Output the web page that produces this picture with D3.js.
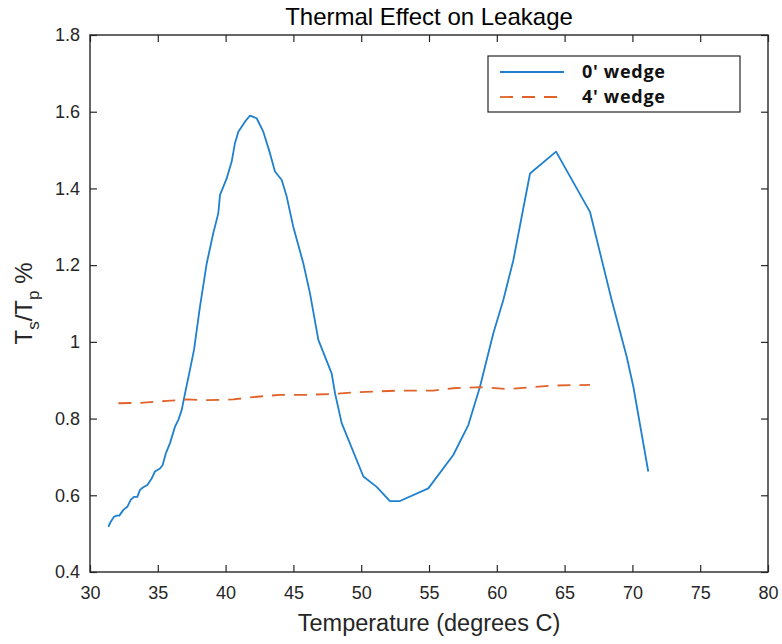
<!DOCTYPE html>
<html>
<head>
<meta charset="utf-8">
<script src="https://cdn.jsdelivr.net/npm/d3@7"></script>
<style>
  html, body { margin: 0; padding: 0; background: #fff; }
  svg { display: block; }
</style>
</head>
<body>
<svg id="chart" width="782" height="644"></svg>
<script>
// Temperature (degrees C) and ratio readings for the 0' wedge
const wedge0Temp = [31.35, 31.53, 31.77, 31.97, 32.16, 32.46, 32.75, 33.00, 33.24, 33.49,
  33.69, 33.93, 34.23, 34.55, 34.79, 35.16, 35.36, 35.60, 35.90, 36.27,
  36.51, 36.76, 37.01, 37.37, 37.67, 38.11, 38.61, 39.09, 39.46, 39.59,
  40.08, 40.45, 40.69, 40.94, 41.43, 41.80, 42.29, 42.78, 43.27, 43.64,
  44.14, 44.51, 44.99, 45.73, 46.22, 46.84, 47.82, 48.07, 48.56, 50.16,
  51.14, 52.12, 52.86, 54.95, 56.79, 57.90, 58.76, 59.74, 60.48, 61.22,
  62.45, 64.37, 66.87, 68.47, 69.58, 70.07, 71.17];
const wedge0Ratio = [0.518, 0.531, 0.544, 0.547, 0.547, 0.562, 0.570, 0.588, 0.596, 0.596,
  0.614, 0.621, 0.627, 0.644, 0.662, 0.670, 0.679, 0.710, 0.736, 0.779,
  0.796, 0.822, 0.866, 0.927, 0.979, 1.092, 1.205, 1.283, 1.335, 1.383,
  1.426, 1.470, 1.518, 1.548, 1.574, 1.590, 1.583, 1.548, 1.492, 1.444,
  1.422, 1.378, 1.300, 1.205, 1.127, 1.005, 0.918, 0.866, 0.788, 0.649,
  0.622, 0.585, 0.585, 0.618, 0.705, 0.783, 0.883, 1.022, 1.109, 1.213,
  1.439, 1.496, 1.339, 1.109, 0.961, 0.883, 0.662];

// Temperature and ratio readings for the 4' wedge
const wedge4Temp = [32.09, 33.69, 35.66, 37.13, 38.61, 40.57, 42.04, 44.01, 45.98, 47.94,
  49.42, 51.39, 52.86, 55.32, 56.79, 58.76, 60.73, 62.70, 64.17, 66.87];
const wedge4Ratio = [0.840, 0.841, 0.846, 0.850, 0.848, 0.850, 0.856, 0.862, 0.862, 0.864,
  0.868, 0.871, 0.873, 0.873, 0.879, 0.882, 0.877, 0.882, 0.886, 0.888];

const xTicks = [30, 35, 40, 45, 50, 55, 60, 65, 70, 75, 80];
const yTicks = [0.4, 0.6, 0.8, 1, 1.2, 1.4, 1.6, 1.8];
const seriesNames = ["0' wedge", "4' wedge"];

const plot = { left: 90, right: 768, top: 35, bottom: 572 };
const axisColor = "#262626";
const blue = "#1f80cf";
const orange = "#e0622a";
const sans = "'Liberation Sans', Arial, Helvetica, sans-serif";

const svg = d3.select("#chart");

const x = d3.scaleLinear().domain([30, 80]).range([plot.left, plot.right]);
const y = d3.scaleLinear().domain([0.4, 1.8]).range([plot.bottom, plot.top]);

const tickLen = 7;

// Axes (ticks point inward, box on all four sides)
const gx = svg.append("g").attr("transform", `translate(0,${plot.bottom})`)
  .call(d3.axisBottom(x).tickValues(xTicks).tickSizeInner(-tickLen).tickSizeOuter(0)
    .tickPadding(14).tickFormat(d3.format("d")));
const gxTop = svg.append("g").attr("transform", `translate(0,${plot.top})`)
  .call(d3.axisTop(x).tickValues(xTicks).tickSizeInner(-tickLen).tickSizeOuter(0).tickFormat(""));
const gy = svg.append("g").attr("transform", `translate(${plot.left},0)`)
  .call(d3.axisLeft(y).tickValues(yTicks).tickSizeInner(-tickLen).tickSizeOuter(0)
    .tickPadding(10).tickFormat(d3.format("~g")));
const gyRight = svg.append("g").attr("transform", `translate(${plot.right},0)`)
  .call(d3.axisRight(y).tickValues(yTicks).tickSizeInner(-tickLen).tickSizeOuter(0).tickFormat(""));

[gx, gxTop, gy, gyRight].forEach(g => {
  g.select(".domain").remove();
  g.selectAll(".tick line").attr("stroke", axisColor).attr("stroke-width", 1.2);
  g.selectAll(".tick text").attr("fill", axisColor)
    .style("font-family", sans).style("font-size", "18px");
});

// Frame
svg.append("rect")
  .attr("x", plot.left).attr("y", plot.top)
  .attr("width", plot.right - plot.left).attr("height", plot.bottom - plot.top)
  .attr("fill", "none").attr("stroke", axisColor).attr("stroke-width", 1.4);

// Series lines
const line = d3.line().x(d => x(d[0])).y(d => y(d[1]));
const s0 = wedge0Temp.map((t, i) => [t, wedge0Ratio[i]]);
const s4 = wedge4Temp.map((t, i) => [t, wedge4Ratio[i]]);

svg.append("path").datum(s0).attr("d", line)
  .attr("fill", "none").attr("stroke", blue).attr("stroke-width", 1.8)
  .attr("stroke-linejoin", "round");
svg.append("path").datum(s4).attr("d", line)
  .attr("fill", "none").attr("stroke", orange).attr("stroke-width", 1.8)
  .attr("stroke-dasharray", "13,9");

// Title
svg.append("text")
  .attr("x", (plot.left + plot.right) / 2).attr("y", 25)
  .attr("text-anchor", "middle").attr("fill", "#000")
  .style("font-family", sans).style("font-size", "24px")
  .text("Thermal Effect on Leakage");

// X axis label
svg.append("text")
  .attr("x", (plot.left + plot.right) / 2).attr("y", 631)
  .attr("text-anchor", "middle").attr("fill", axisColor)
  .style("font-family", sans).style("font-size", "23.5px")
  .text("Temperature (degrees C)");

// Y axis label: T_s/T_p %
const yl = svg.append("text")
  .attr("transform", `translate(32,${(plot.top + plot.bottom) / 2}) rotate(-90)`)
  .attr("text-anchor", "middle").attr("fill", axisColor)
  .style("font-family", sans).style("font-size", "24px");
yl.append("tspan").text("T");
yl.append("tspan").attr("dy", 7).style("font-size", "17px").text("s");
yl.append("tspan").attr("dy", -7).text("/T");
yl.append("tspan").attr("dy", 7).style("font-size", "17px").text("p");
yl.append("tspan").attr("dy", -7).text(" %");

// Legend
const leg = svg.append("g");
leg.append("rect")
  .attr("x", 488).attr("y", 56).attr("width", 252).attr("height", 56)
  .attr("fill", "#fff").attr("stroke", axisColor).attr("stroke-width", 1.2);
const legRows = [
  { name: seriesNames[0], color: blue, dash: null, cy: 72 },
  { name: seriesNames[1], color: orange, dash: "13,9", cy: 97 }
];
legRows.forEach(r => {
  leg.append("line")
    .attr("x1", 500).attr("x2", 564).attr("y1", r.cy).attr("y2", r.cy)
    .attr("stroke", r.color).attr("stroke-width", 1.8)
    .attr("stroke-dasharray", r.dash);
  leg.append("text")
    .attr("x", 582).attr("y", r.cy + 6)
    .attr("fill", "#111")
    .style("font-family", "'Open Sans', Lato, sans-serif")
    .style("font-weight", "bold").style("font-size", "18px")
    .style("letter-spacing", "0.7px")
    .text(r.name);
});
</script>
</body>
</html>
